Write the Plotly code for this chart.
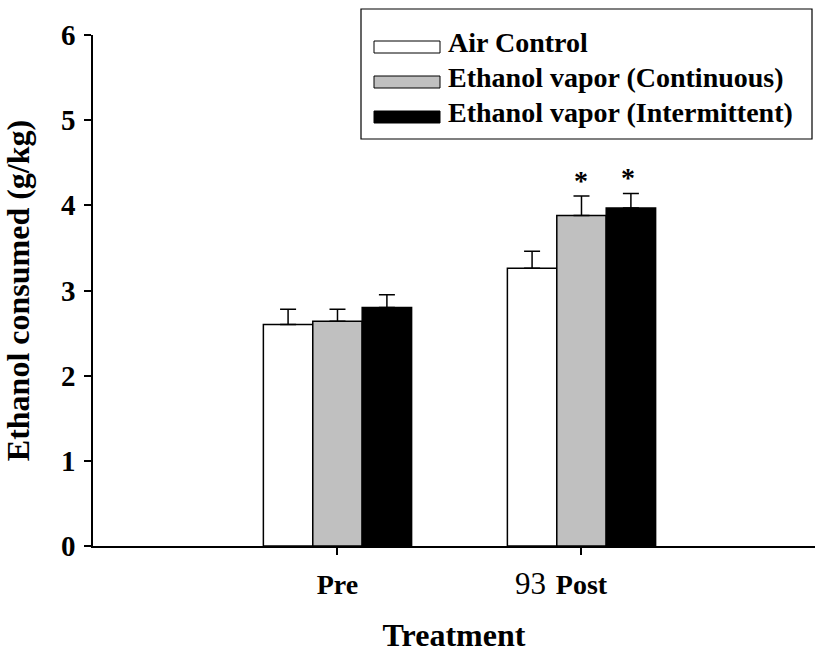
import plotly.graph_objects as go

# ---- data ----
categories = ["Pre", "Post"]
series_names = ["Air Control", "Ethanol vapor (Continuous)", "Ethanol vapor (Intermittent)"]
air_control = [2.60, 3.26]
continuous = [2.64, 3.88]
intermittent = [2.80, 3.97]
air_control_se = [0.18, 0.20]
continuous_se = [0.14, 0.23]
intermittent_se = [0.15, 0.17]
significant = [[False, False], [False, True], [False, True]]
y_ticks = [0, 1, 2, 3, 4, 5, 6]

values = [air_control, continuous, intermittent]
errors = [air_control_se, continuous_se, intermittent_se]
colors = ["#ffffff", "#c0c0c0", "#000000"]

FONT = "Liberation Serif, Times New Roman, serif"
xpos = list(range(len(categories)))
bar_w = 0.2025

fig = go.Figure()
for name, v, e, c in zip(series_names, values, errors, colors):
    fig.add_trace(go.Bar(
        x=xpos, y=v, name=name,
        marker=dict(color=c, line=dict(color="#000000", width=1.5)),
        error_y=dict(type="data", array=e, arrayminus=[0] * len(e), symmetric=False,
                     color="#000000", thickness=1.5, width=8),
        showlegend=False,
    ))

# significance asterisks
annotations = []
for si, (v, e, sig) in enumerate(zip(values, errors, significant)):
    for ci, s in enumerate(sig):
        if s:
            annotations.append(dict(
                x=xpos[ci] + (si - 1) * bar_w, y=v[ci] + e[ci], xref="x", yref="y",
                text="*", showarrow=False, xanchor="center", yanchor="bottom",
                xshift=-3 if si == 2 else 0, yshift=-2,
                font=dict(family=FONT, size=28, color="#000000", weight="bold"),
            ))

# stray "93" beside the Post tick label
annotations.append(dict(
    x=1, y=-0.073, xref="x", yref="paper", text="93", showarrow=False,
    xanchor="right", yanchor="middle", xshift=-33,
    font=dict(family=FONT, size=31, color="#000000"),
))

# custom legend
W, H, L, T = 722.0, 511.0, 93.0, 35.0
def px(x):
    return (x - L) / W
def py(y):
    return (546.0 - y) / H

shapes = [dict(type="rect", xref="paper", yref="paper",
               x0=px(361), x1=px(812), y0=py(139), y1=py(9),
               line=dict(color="#000000", width=1.2), fillcolor="#ffffff", layer="above")]
row_centers = [47, 82, 117]
for name, c, rc in zip(series_names, colors, row_centers):
    shapes.append(dict(type="rect", xref="paper", yref="paper",
                       x0=px(374), x1=px(440), y0=py(rc + 6), y1=py(rc - 6),
                       line=dict(color="#000000", width=1), fillcolor=c, layer="above"))
    annotations.append(dict(x=px(446), y=py(rc - 5), xref="paper", yref="paper",
                            text=name, showarrow=False, xanchor="left", yanchor="middle",
                            font=dict(family=FONT, size=28, color="#000000", weight="bold")))

fig.update_layout(
    width=815, height=653,
    margin=dict(l=93, r=0, t=35, b=107, pad=0),
    paper_bgcolor="#ffffff", plot_bgcolor="#ffffff",
    barmode="group", bargap=1 - 3 * bar_w, bargroupgap=0,
    font=dict(family=FONT, color="#000000"),
    xaxis=dict(
        range=[-1.002, 1.957], tickvals=xpos, ticktext=categories,
        ticks="outside", ticklen=7, tickwidth=1.5, tickcolor="#000000",
        showline=True, linecolor="#000000", linewidth=1.5,
        showgrid=False, zeroline=False, ticklabelstandoff=6,
        tickfont=dict(family=FONT, size=28, color="#000000", weight="bold"),
        title=dict(text="Treatment", standoff=26,
                   font=dict(family=FONT, size=32, color="#000000", weight="bold")),
    ),
    yaxis=dict(
        range=[0, 6], tickvals=y_ticks, ticktext=[str(t) for t in y_ticks],
        ticks="outside", ticklen=7, tickwidth=1.5, tickcolor="#000000",
        showline=True, linecolor="#000000", linewidth=1.5,
        showgrid=False, zeroline=False, ticklabelstandoff=3,
        tickfont=dict(family=FONT, size=29, color="#000000", weight="bold"),
        title=dict(text="Ethanol consumed (g/kg)", standoff=31,
                   font=dict(family=FONT, size=32, color="#000000", weight="bold")),
    ),
    shapes=shapes,
    annotations=annotations,
)

fig.write_html("out.html")
